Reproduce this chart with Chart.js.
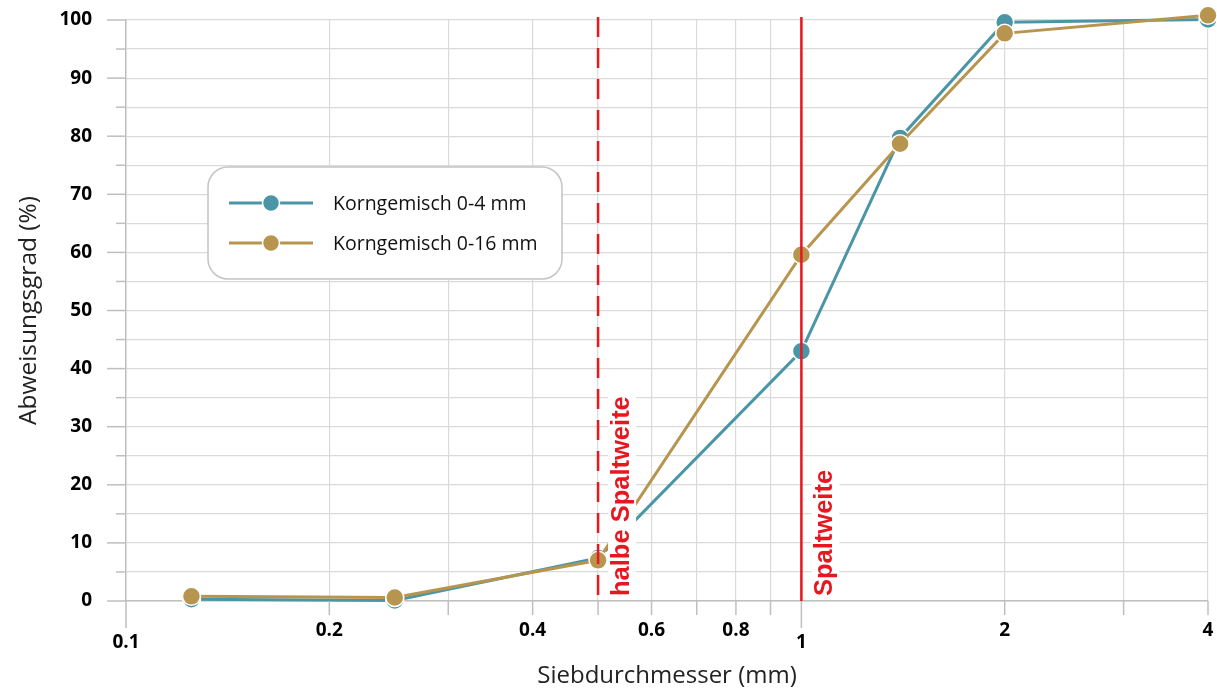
<!DOCTYPE html>
<html><head><meta charset="utf-8">
<script src="https://cdn.jsdelivr.net/npm/chart.js@4.4.1/dist/chart.umd.min.js"></script>
<style>html,body{margin:0;padding:0;background:#fff;}#wrap{width:1217px;height:690px;position:relative;}</style>
</head><body><div id="wrap"><canvas id="c" width="1217" height="690" style="width:1217px;height:690px"></canvas></div>
<script>
// ---- data ----
const sieveSizes = [0.125, 0.25, 0.5, 1, 1.4, 2, 4];
const series04 = [0.3, 0.1, 7.4, 43.0, 79.7, 99.6, 100.1];
const series016 = [0.8, 0.6, 7.0, 59.6, 78.7, 97.7, 100.8];
const seriesNames = ['Korngemisch 0-4 mm', 'Korngemisch 0-16 mm'];
const seriesColors = ['#4B96A6', '#B8954E'];
const xTickValues = [0.1, 0.2, 0.3, 0.4, 0.5, 0.6, 0.7, 0.8, 0.9, 1, 2, 3, 4];
const xTickLabels = ['0.1', '0.2', '', '0.4', '', '0.6', '', '0.8', '', '1', '2', '', '4'];
const xDecadeTicks = [0.1, 1];
const yMin = 0, yMax = 100, yStep = 5, yLabelStep = 10;
const refLineValues = [0.5, 1];
const refLineLabels = ['halbe Spaltweite', 'Spaltweite'];
const refLineDashed = [true, false];

const RED = '#E8171F';
const GRID = '#DADADA';
const AXIS = '#BFBFBF';

const zeroPad = s => { s.paddingTop = 0; s.paddingBottom = 0; s.paddingLeft = 0; s.paddingRight = 0; };

const extrasPlugin = {
  id: 'extras',
  afterDatasetsDraw(chart) {
    const ctx = chart.ctx, ca = chart.chartArea;
    const xs = chart.scales.x, ys = chart.scales.y;
    ctx.save();
    // tick marks
    ctx.strokeStyle = AXIS; ctx.lineWidth = 1.5;
    xTickValues.forEach(v => {
      const px = xs.getPixelForValue(v);
      const len = xDecadeTicks.includes(v) ? 27 : 14;
      ctx.beginPath(); ctx.moveTo(px, ca.bottom); ctx.lineTo(px, ca.bottom + len); ctx.stroke();
    });
    for (let v = yMin; v <= yMax; v += yStep) {
      const py = ys.getPixelForValue(v);
      const len = v % yLabelStep === 0 ? 19 : 10;
      ctx.beginPath(); ctx.moveTo(ca.left - len, py); ctx.lineTo(ca.left, py); ctx.stroke();
    }
    // reference lines
    refLineValues.forEach((v, i) => {
      const px = xs.getPixelForValue(v);
      ctx.strokeStyle = RED; ctx.lineWidth = 2.5;
      ctx.setLineDash(refLineDashed[i] ? [20, 11] : []);
      ctx.beginPath(); ctx.moveTo(px, ca.top - 3); ctx.lineTo(px, ca.bottom); ctx.stroke();
      ctx.setLineDash([]);
      ctx.font = 'bold 25.5px "Liberation Sans", Arial, sans-serif';
      const w = ctx.measureText(refLineLabels[i]).width;
      const cx = px + 23, by = ca.bottom - 5;
      ctx.fillStyle = '#fff';
      ctx.fillRect(cx - 13, by - w - 4, 28, w + 8);
      ctx.translate(cx, by);
      ctx.rotate(-Math.PI / 2);
      ctx.fillStyle = RED; ctx.textAlign = 'left'; ctx.textBaseline = 'middle';
      ctx.fillText(refLineLabels[i], 0, 1);
      ctx.setTransform(1, 0, 0, 1, 0, 0);
    });
    // legend box
    const lx = ca.left + 82, ly = ca.top + 147, lw = 354, lh = 112, r = 20;
    ctx.beginPath();
    ctx.roundRect(lx, ly, lw, lh, r);
    ctx.fillStyle = '#fff'; ctx.fill();
    ctx.strokeStyle = '#C4C4C4'; ctx.lineWidth = 1.5; ctx.stroke();
    seriesNames.forEach((name, i) => {
      const y = ly + 36 + i * 40;
      ctx.strokeStyle = seriesColors[i]; ctx.lineWidth = 3;
      ctx.beginPath(); ctx.moveTo(lx + 21, y); ctx.lineTo(lx + 105, y); ctx.stroke();
      ctx.beginPath(); ctx.arc(lx + 63, y, 8.5, 0, Math.PI * 2);
      ctx.fillStyle = seriesColors[i]; ctx.fill();
      ctx.strokeStyle = '#fff'; ctx.lineWidth = 1.5; ctx.stroke();
      ctx.fillStyle = '#111'; ctx.font = '19.5px "Open Sans", sans-serif';
      ctx.textAlign = 'left'; ctx.textBaseline = 'middle';
      ctx.fillText(name, lx + 125, y + 1);
    });
    ctx.restore();
  }
};

new Chart(document.getElementById('c'), {
  type: 'line',
  data: {
    labels: sieveSizes,
    datasets: [
      { label: seriesNames[0], data: sieveSizes.map((x, i) => ({x, y: series04[i]})),
        borderColor: seriesColors[0], backgroundColor: seriesColors[0], borderWidth: 3,
        pointRadius: 9, pointHoverRadius: 9, pointBorderColor: '#fff', pointBorderWidth: 1.5,
        pointBackgroundColor: seriesColors[0], tension: 0, clip: false, order: 1, fill: false },
      { label: seriesNames[1], data: sieveSizes.map((x, i) => ({x, y: series016[i]})),
        borderColor: seriesColors[1], backgroundColor: seriesColors[1], borderWidth: 3,
        pointRadius: 9, pointHoverRadius: 9, pointBorderColor: '#fff', pointBorderWidth: 1.5,
        pointBackgroundColor: seriesColors[1], tension: 0, clip: false, order: 0, fill: false }
    ]
  },
  options: {
    responsive: false, animation: false, devicePixelRatio: 1,
    layout: { autoPadding: false, padding: { top: 20, right: 9, left: 0, bottom: 0 } },
    plugins: { legend: { display: false }, tooltip: { enabled: false } },
    scales: {
      x: {
        type: 'logarithmic', min: 0.1, max: 4,
        afterBuildTicks: s => { s.ticks = xTickValues.map(v => ({ value: v })); },
        afterFit: s => { s.height = 89; zeroPad(s); },
        ticks: {
          autoSkip: false, maxRotation: 0, minRotation: 0, padding: 24, color: '#000',
          font: { family: '"Open Sans", sans-serif', size: 19, weight: 'bold', lineHeight: '12px' },
          callback: (v, i) => xDecadeTicks.includes(xTickValues[i]) ? ['', xTickLabels[i]] : xTickLabels[i]
        },
        grid: { color: GRID, lineWidth: 1.2, drawTicks: false },
        border: { color: AXIS, width: 1.5 },
        title: { display: true, text: 'Siebdurchmesser (mm)', color: '#222',
          font: { family: '"Open Sans", sans-serif', size: 24 }, padding: { top: 0, bottom: -1 } }
      },
      y: {
        min: yMin, max: yMax,
        afterBuildTicks: s => { const t = []; for (let v = yMin; v <= yMax; v += yStep) t.push({ value: v }); s.ticks = t; },
        afterFit: s => { s.width = 126; zeroPad(s); },
        ticks: {
          autoSkip: false, padding: 34, color: '#000',
          font: { family: '"Open Sans", sans-serif', size: 19, weight: 'bold' },
          callback: v => (v % yLabelStep === 0 ? String(v) : '')
        },
        grid: { color: GRID, lineWidth: 1.2, drawTicks: false },
        border: { color: AXIS, width: 1.5 },
        title: { display: true, text: 'Abweisungsgrad (%)', color: '#222',
          font: { family: '"Open Sans", sans-serif', size: 24.5 }, padding: { top: 14, bottom: 0 } }
      }
    }
  },
  plugins: [extrasPlugin]
});
</script></body></html>
